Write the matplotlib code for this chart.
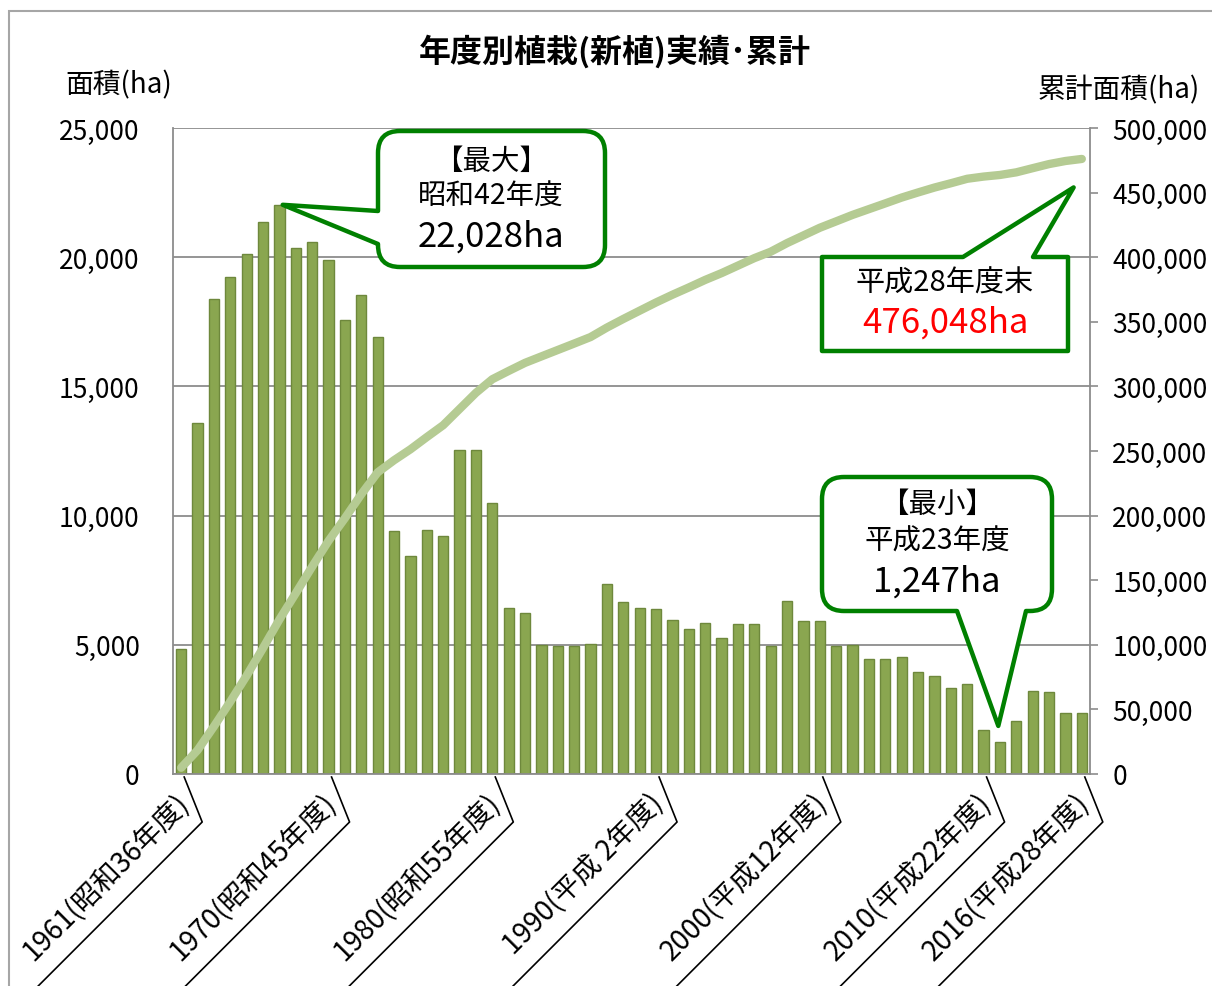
import numpy as np
import matplotlib
matplotlib.use("Agg")
import matplotlib.pyplot as plt
from matplotlib.path import Path
from matplotlib.patches import PathPatch, Rectangle
from matplotlib.lines import Line2D
from matplotlib.transforms import IdentityTransform

plt.rcParams['font.family'] = ['Noto Sans CJK JP', 'DejaVu Sans']

W, H = 1212, 987

# fiscal years 1961 (昭和36) .. 2016 (平成28)
years = list(range(1961, 2017))

# annual planted area (ha)
annual = [4850, 13590, 18390, 19220, 20130, 21380, 22028, 20370, 20580, 19910,
          17580, 18520, 16920, 9390, 8450, 9460, 9200, 12540, 12540, 10500,
          6440, 6240, 5000, 4970, 4970, 5030, 7350, 6650, 6410, 6370,
          5970, 5630, 5840, 5260, 5800, 5790, 4970, 6680, 5930, 5930,
          4970, 5000, 4460, 4450, 4510, 3940, 3800, 3320, 3470, 1700,
          1247, 2040, 3220, 3170, 2380, 2360]

# cumulative area (ha)
cumulative = [4850, 18440, 36830, 56050, 76180, 97560, 119590, 139960, 160540, 180450,
              198030, 216550, 233470, 242860, 251310, 260770, 269970, 282510, 295050, 305550,
              311990, 318230, 323230, 328200, 333170, 338200, 345550, 352200, 358610, 364980,
              370950, 376580, 382420, 387680, 393480, 399270, 404240, 410920, 416850, 422780,
              427750, 432750, 437210, 441660, 446170, 450110, 453910, 457230, 460700, 462400,
              463650, 465690, 468910, 472080, 474460, 476048]

tick_years = [1961, 1970, 1980, 1990, 2000, 2010, 2016]
tick_labels = ['1961(昭和36年度)', '1970(昭和45年度)', '1980(昭和55年度)',
               '1990(平成 2年度)', '2000(平成12年度)', '2010(平成22年度)',
               '2016(平成28年度)']

GREEN = '#008000'
GRID = '#8c8c8c'

fig = plt.figure(figsize=(W / 100, H / 100), dpi=100)
ax = fig.add_axes([173 / W, (H - 775) / H, 917 / W, 646 / H])
ax2 = ax.twinx()

x = np.arange(len(years))
ax.bar(x, annual, width=0.63, color='#8aa650', edgecolor='#6e883c', linewidth=1, zorder=2)
ax2.plot(x, cumulative, color='#b5cb93', linewidth=6, solid_capstyle='round', zorder=3)

ax.set_xlim(-0.5, len(years) - 0.5)
ax.set_ylim(0, 25000)
ax2.set_ylim(0, 500000)
ax.set_yticks(np.arange(0, 25001, 5000))
ax2.set_yticks(np.arange(0, 500001, 50000))
ax.set_yticklabels([f'{v:,}' for v in range(0, 25001, 5000)], fontsize=19)
ax2.set_yticklabels([f'{v:,}' for v in range(0, 500001, 50000)], fontsize=19)

ax.yaxis.grid(True, color=GRID, linewidth=1.3)
ax.set_axisbelow(True)
ax.tick_params(axis='y', length=0, pad=24)
ax.tick_params(axis='x', length=0, labelbottom=False)
ax2.tick_params(axis='y', length=6, width=1.2, color=GRID, pad=10, direction='out')

for s in ['top', 'right']:
    ax.spines[s].set_visible(False)
for s in ['left', 'bottom']:
    ax.spines[s].set_color(GRID)
    ax.spines[s].set_linewidth(1.3)
for s in ['top', 'left', 'bottom']:
    ax2.spines[s].set_visible(False)
ax2.spines['right'].set_color(GRID)
ax2.spines['right'].set_linewidth(1.3)

# titles
fig.text(615 / W, 1 - 52 / H, '年度別植栽(新植)実績･累計', ha='center', va='center',
         fontsize=23, fontweight='bold')
fig.text(65 / W, 1 - 85 / H, '面積(ha)', ha='left', va='center', fontsize=20)
fig.text(1200 / W, 1 - 90 / H, '累計面積(ha)', ha='right', va='center', fontsize=20)

# outer frame
fig.add_artist(Rectangle((9 / W, -0.1), 2, (H - 12) / H + 0.1, transform=fig.transFigure,
                         fill=False, edgecolor='#a6a6a6', linewidth=1.5))

# x labels with bracket lines
for yr, lab in zip(tick_years, tick_labels):
    xd, yd = ax.transData.transform((years.index(yr), 0))
    bx, by = xd + 21, yd - 48
    fig.add_artist(Line2D([xd + 3, bx, bx - 220], [yd - 3, by, by - 220],
                          transform=IdentityTransform(), color='black', linewidth=1.2))
    fig.text(bx - 7, by + 13, lab, transform=IdentityTransform(), rotation=45,
             rotation_mode='anchor', ha='right', va='bottom', fontsize=20)


def callout(L, R, T, B, r, side, base, tip):
    # box in image pixel coords, converted to display coords
    T, B = H - T, H - B
    v, c = [], []

    def mv(p):
        v.append(p); c.append(Path.MOVETO)

    def ln(p):
        v.append(p); c.append(Path.LINETO)

    def cv(ctrl, p):
        v.extend([ctrl, p]); c.extend([Path.CURVE3, Path.CURVE3])

    mv((L + r, B))
    if side == 'bottom':
        ln((base[0], B)); ln(tip); ln((base[1], B))
    ln((R - r, B)); cv((R, B), (R, B + r))
    ln((R, T - r)); cv((R, T), (R - r, T))
    if side == 'top':
        ln((base[1], T)); ln(tip); ln((base[0], T))
    ln((L + r, T)); cv((L, T), (L, T - r))
    if side == 'left':
        ln((L, H - base[0])); ln(tip); ln((L, H - base[1]))
    ln((L, B + r)); cv((L, B), (L + r, B))
    v.append((L + r, B)); c.append(Path.CLOSEPOLY)
    fig.add_artist(PathPatch(Path(v, c), transform=IdentityTransform(), facecolor='white',
                             edgecolor=GREEN, linewidth=3.2, joinstyle='round', zorder=5))


def ftext(xp, yp, s, size, color='black'):
    fig.text(xp / W, 1 - yp / H, s, ha='center', va='center', fontsize=size, color=color,
             zorder=6)


# max callout
tip1 = ax.transData.transform((6.2, annual[6]))
callout(378, 605, 132, 268, 22, 'left', (212, 245), tuple(tip1))
ftext(491, 162, '【最大】', 20.5)
ftext(491, 197, '昭和42年度', 20.5)
ftext(491, 237, '22,028ha', 25)

# cumulative callout
tip2 = ax2.transData.transform((54.5, 454000))
callout(822, 1068, 258, 352, 0, 'top', (963, 1033), tuple(tip2))
ftext(945, 284, '平成28年度末', 21)
ftext(945, 323, '476,048ha', 25, color='red')

# min callout
tip3 = ax.transData.transform((49.9, 1860))
callout(822, 1052, 478, 612, 22, 'bottom', (957, 1026), tuple(tip3))
ftext(937, 505, '【最小】', 20.5)
ftext(937, 542, '平成23年度', 20.5)
ftext(937, 582, '1,247ha', 25)

fig.savefig('out.png', dpi=100)
